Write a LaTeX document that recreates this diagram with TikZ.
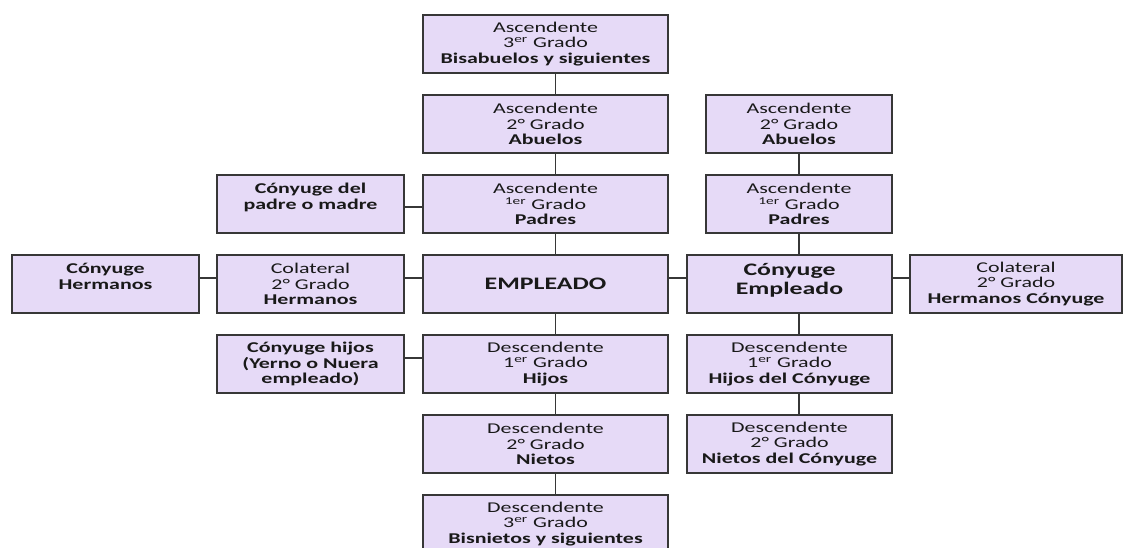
\documentclass[tikz,border=0pt]{standalone}
\usepackage{fontspec}
\setmainfont{Carlito}[FakeStretch=1.47]
\usetikzlibrary{positioning}
\definecolor{boxfill}{RGB}{230,218,247}
\definecolor{boxline}{RGB}{55,55,55}
\definecolor{inkgray}{RGB}{25,25,25}

\begin{document}
\begin{tikzpicture}[
		kinbox/.style={rectangle, draw=boxline, fill=boxfill, line width=0.8pt, outer sep=0pt, minimum height=1.16cm, inner sep=0pt, align=center, text=inkgray, font=\fontsize{8.5}{8.9}\selectfont},
		centrecol/.style={text width=4.9cm},
		sidecol/.style={text width=3.74cm},
		spousecol/.style={text width=4.1cm},
		spousetop/.style={text width=3.72cm},
		farcol/.style={text width=4.24cm},
		bigtext/.style={font=\fontsize{10}{10.6}\selectfont\bfseries},
		link/.style={draw=boxline, line width=1pt},
		node distance=0.44cm and 0.38cm,
		]
		\useasboundingbox (0,0) rectangle (22.5,-10.94);

		%Nodes
		\node[kinbox, centrecol] (asc3) at (10.91,-0.88) {Ascendente\\3\textsuperscript{er} Grado\\\textbf{Bisabuelos y siguientes}};
		\node[kinbox, centrecol, below=of asc3] (asc2) {Ascendente\\2° Grado\\\textbf{Abuelos}};
		\node[kinbox, centrecol, below=of asc2] (asc1) {Ascendente\\\textsuperscript{1er} Grado\\\textbf{Padres}};
		\node[kinbox, centrecol, bigtext, below=of asc1] (emp) {EMPLEADO};
		\node[kinbox, centrecol, below=of emp] (des1) {Descendente\\1\textsuperscript{er} Grado\\\textbf{Hijos}};
		\node[kinbox, centrecol, below=of des1] (des2) {Descendente\\2° Grado\\\textbf{Nietos}};
		\node[kinbox, centrecol, below=of des2] (des3) {Descendente\\3\textsuperscript{er} Grado\\\textbf{Bisnietos y siguientes}};

		\node[kinbox, sidecol, left=of emp] (col) {Colateral\\2° Grado\\\textbf{Hermanos}};
		\node[kinbox, sidecol, above=of col] (cpm) {\textbf{Cónyuge del}\\\textbf{padre o madre}\\\mbox{}};
		\node[kinbox, sidecol, below=of col] (chij) {\textbf{Cónyuge hijos}\\\textbf{(Yerno o Nuera}\\\textbf{empleado)}};
		\node[kinbox, sidecol, left=0.36cm of col] (chm) {\textbf{Cónyuge}\\\textbf{Hermanos}\\\mbox{}};

		\node[kinbox, spousecol, bigtext, right=of emp] (cemp) {Cónyuge\\Empleado\\[-5pt]\mbox{}};
		\node[kinbox, farcol, right=0.36cm of cemp] (ccol) {Colateral\\2° Grado\\\textbf{Hermanos Cónyuge}};
		\node[kinbox, spousetop, above=of cemp.north east, anchor=south east] (casc1) {Ascendente\\\textsuperscript{1er} Grado\\\textbf{Padres}};
		\node[kinbox, spousetop, above=of casc1] (casc2) {Ascendente\\2° Grado\\\textbf{Abuelos}};
		\node[kinbox, spousecol, below=of cemp] (cdes1) {Descendente\\1\textsuperscript{er} Grado\\\textbf{Hijos del Cónyuge}};
		\node[kinbox, spousecol, below=of cdes1] (cdes2) {Descendente\\2° Grado\\\textbf{Nietos del Cónyuge}};

		%Lines
		\draw[link] ([xshift=2mm]asc3.south) -- ([xshift=2mm]asc2.north);
		\draw[link] ([xshift=2mm]asc2.south) -- ([xshift=2mm]asc1.north);
		\draw[link] ([xshift=2mm]asc1.south) -- ([xshift=2mm]emp.north);
		\draw[link] ([xshift=2mm]emp.south) -- ([xshift=2mm]des1.north);
		\draw[link] ([xshift=2mm]des1.south) -- ([xshift=2mm]des2.north);
		\draw[link] ([xshift=2mm]des2.south) -- ([xshift=2mm]des3.north);

		\draw[link] ([yshift=-0.6mm]cpm.east) -- ([yshift=-0.6mm]asc1.west);
		\draw[link] ([yshift=1.2mm]chm.east) -- ([yshift=1.2mm]col.west);
		\draw[link] ([yshift=1.2mm]col.east) -- ([yshift=1.2mm]emp.west);
		\draw[link] ([yshift=1.2mm]chij.east) -- ([yshift=1.2mm]des1.west);
		\draw[link] ([yshift=1.2mm]emp.east) -- ([yshift=1.2mm]cemp.west);
		\draw[link] ([yshift=1.2mm]cemp.east) -- ([yshift=1.2mm]ccol.west);

		\draw[link] (casc2.south) -- (casc1.north);
		\draw[link] (casc1.south) -- (casc1.south |- cemp.north);
		\draw[link] (cemp.south -| casc1) -- (cdes1.north -| casc1);
		\draw[link] (cdes1.south -| casc1) -- (cdes2.north -| casc1);
	\end{tikzpicture}
\end{document}
